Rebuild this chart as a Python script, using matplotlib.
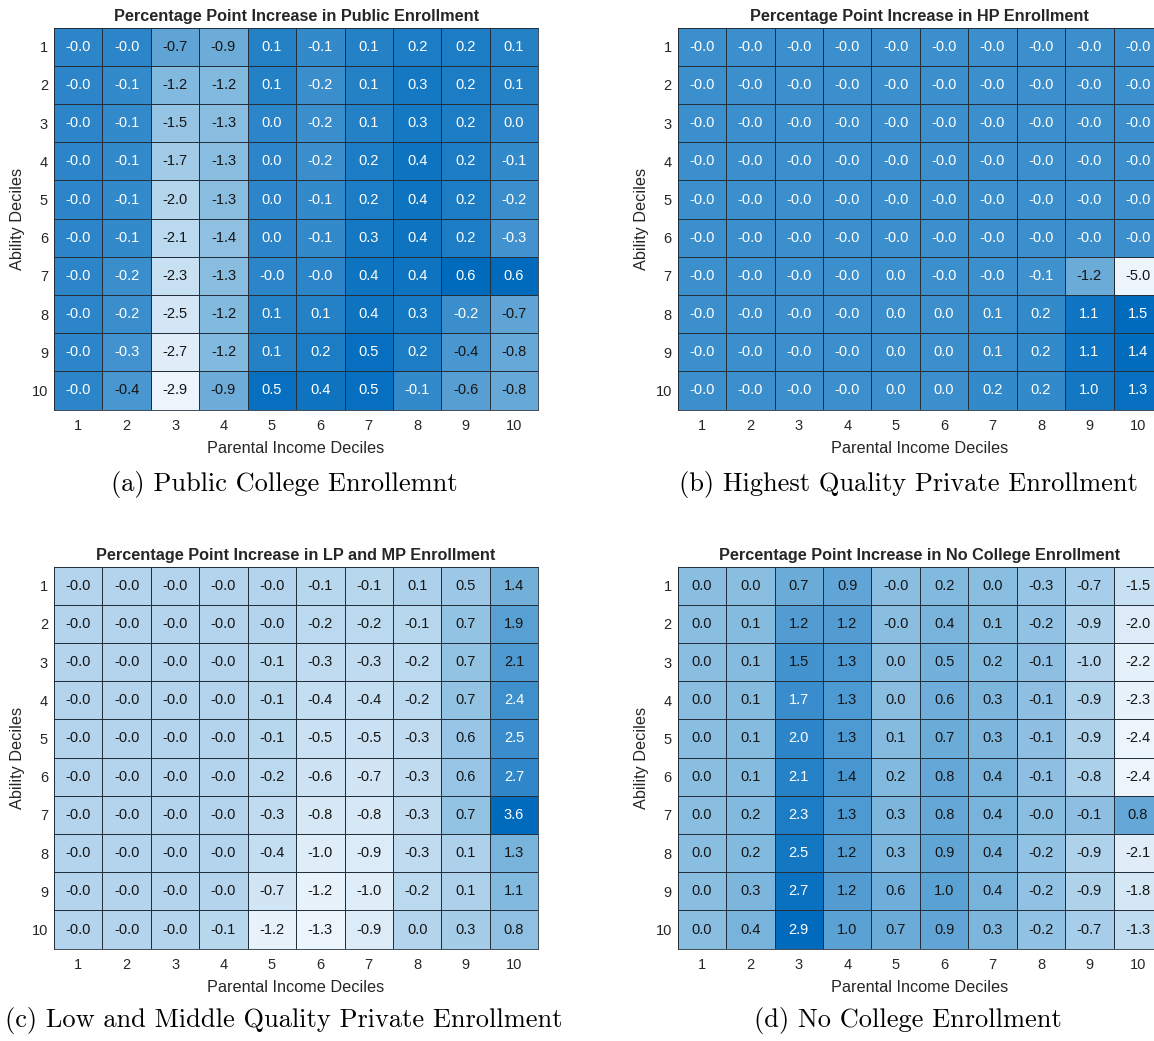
import numpy as np
import matplotlib
matplotlib.use("Agg")
import matplotlib.pyplot as plt
from matplotlib.colors import LinearSegmentedColormap, Normalize

# Percentage point changes by ability decile (rows) and parental income decile (columns)
public_enroll = [
    [-0.0, -0.0, -0.7, -0.9, 0.1, -0.1, 0.1, 0.2, 0.2, 0.1],
    [-0.0, -0.1, -1.2, -1.2, 0.1, -0.2, 0.1, 0.3, 0.2, 0.1],
    [-0.0, -0.1, -1.5, -1.3, 0.0, -0.2, 0.1, 0.3, 0.2, 0.0],
    [-0.0, -0.1, -1.7, -1.3, 0.0, -0.2, 0.2, 0.4, 0.2, -0.1],
    [-0.0, -0.1, -2.0, -1.3, 0.0, -0.1, 0.2, 0.4, 0.2, -0.2],
    [-0.0, -0.1, -2.1, -1.4, 0.0, -0.1, 0.3, 0.4, 0.2, -0.3],
    [-0.0, -0.2, -2.3, -1.3, -0.0, -0.0, 0.4, 0.4, 0.6, 0.6],
    [-0.0, -0.2, -2.5, -1.2, 0.1, 0.1, 0.4, 0.3, -0.2, -0.7],
    [-0.0, -0.3, -2.7, -1.2, 0.1, 0.2, 0.5, 0.2, -0.4, -0.8],
    [-0.0, -0.4, -2.9, -0.9, 0.5, 0.4, 0.5, -0.1, -0.6, -0.8],
]

hp_enroll = [
    [-0.0, -0.0, -0.0, -0.0, -0.0, -0.0, -0.0, -0.0, -0.0, -0.0],
    [-0.0, -0.0, -0.0, -0.0, -0.0, -0.0, -0.0, -0.0, -0.0, -0.0],
    [-0.0, -0.0, -0.0, -0.0, -0.0, -0.0, -0.0, -0.0, -0.0, -0.0],
    [-0.0, -0.0, -0.0, -0.0, -0.0, -0.0, -0.0, -0.0, -0.0, -0.0],
    [-0.0, -0.0, -0.0, -0.0, -0.0, -0.0, -0.0, -0.0, -0.0, -0.0],
    [-0.0, -0.0, -0.0, -0.0, -0.0, -0.0, -0.0, -0.0, -0.0, -0.0],
    [-0.0, -0.0, -0.0, -0.0, 0.0, -0.0, -0.0, -0.1, -1.2, -5.0],
    [-0.0, -0.0, -0.0, -0.0, 0.0, 0.0, 0.1, 0.2, 1.1, 1.5],
    [-0.0, -0.0, -0.0, -0.0, 0.0, 0.0, 0.1, 0.2, 1.1, 1.4],
    [-0.0, -0.0, -0.0, -0.0, 0.0, 0.0, 0.2, 0.2, 1.0, 1.3],
]

lp_mp_enroll = [
    [-0.0, -0.0, -0.0, -0.0, -0.0, -0.1, -0.1, 0.1, 0.5, 1.4],
    [-0.0, -0.0, -0.0, -0.0, -0.0, -0.2, -0.2, -0.1, 0.7, 1.9],
    [-0.0, -0.0, -0.0, -0.0, -0.1, -0.3, -0.3, -0.2, 0.7, 2.1],
    [-0.0, -0.0, -0.0, -0.0, -0.1, -0.4, -0.4, -0.2, 0.7, 2.4],
    [-0.0, -0.0, -0.0, -0.0, -0.1, -0.5, -0.5, -0.3, 0.6, 2.5],
    [-0.0, -0.0, -0.0, -0.0, -0.2, -0.6, -0.7, -0.3, 0.6, 2.7],
    [-0.0, -0.0, -0.0, -0.0, -0.3, -0.8, -0.8, -0.3, 0.7, 3.6],
    [-0.0, -0.0, -0.0, -0.0, -0.4, -1.0, -0.9, -0.3, 0.1, 1.3],
    [-0.0, -0.0, -0.0, -0.0, -0.7, -1.2, -1.0, -0.2, 0.1, 1.1],
    [-0.0, -0.0, -0.0, -0.1, -1.2, -1.3, -0.9, 0.0, 0.3, 0.8],
]

no_college = [
    [0.0, 0.0, 0.7, 0.9, -0.0, 0.2, 0.0, -0.3, -0.7, -1.5],
    [0.0, 0.1, 1.2, 1.2, -0.0, 0.4, 0.1, -0.2, -0.9, -2.0],
    [0.0, 0.1, 1.5, 1.3, 0.0, 0.5, 0.2, -0.1, -1.0, -2.2],
    [0.0, 0.1, 1.7, 1.3, 0.0, 0.6, 0.3, -0.1, -0.9, -2.3],
    [0.0, 0.1, 2.0, 1.3, 0.1, 0.7, 0.3, -0.1, -0.9, -2.4],
    [0.0, 0.1, 2.1, 1.4, 0.2, 0.8, 0.4, -0.1, -0.8, -2.4],
    [0.0, 0.2, 2.3, 1.3, 0.3, 0.8, 0.4, -0.0, -0.1, 0.8],
    [0.0, 0.2, 2.5, 1.2, 0.3, 0.9, 0.4, -0.2, -0.9, -2.1],
    [0.0, 0.3, 2.7, 1.2, 0.6, 1.0, 0.4, -0.2, -0.9, -1.8],
    [0.0, 0.4, 2.9, 1.0, 0.7, 0.9, 0.3, -0.2, -0.7, -1.3],
]

income_deciles = [str(i) for i in range(1, 11)]
ability_deciles = [str(i) for i in range(1, 11)]

titles = [
    "Percentage Point Increase in Public Enrollment",
    "Percentage Point Increase in HP Enrollment",
    "Percentage Point Increase in LP and MP Enrollment",
    "Percentage Point Increase in No College Enrollment",
]
captions = [
    "(a) Public College Enrollemnt",
    "(b) Highest Quality Private Enrollment",
    "(c) Low and Middle Quality Private Enrollment",
    "(d) No College Enrollment",
]

W, H = 1154, 1041
fig = plt.figure(figsize=(W / 100, H / 100), dpi=100)

cmap = LinearSegmentedColormap.from_list(
    "blues", [(0.0, (0.925, 0.957, 0.988)),
              (0.5, (0.50, 0.72, 0.87)),
              (1.0, (0.0, 0.42, 0.74))])

TEXT = "#262626"
GRID = "#23303c"
SANS = "Liberation Sans"


def px_axes(left, top, right, bottom):
    return fig.add_axes([left / W, 1 - bottom / H, (right - left) / W, (bottom - top) / H])


def draw_heatmap(ax, values, title):
    data = np.array(values, dtype=float)
    norm = Normalize(vmin=data.min(), vmax=data.max())
    edges = np.arange(11) + 0.5
    ax.pcolormesh(edges, edges, data, cmap=cmap, norm=norm,
                  edgecolors=GRID, linewidth=0.5)
    ax.set_xlim(0.5, 10.5)
    ax.set_ylim(10.5, 0.5)
    for r in range(10):
        for c in range(10):
            v = data[r, c]
            color = "white" if norm(v) > 0.74 else "#151515"
            ax.text(c + 1, r + 1, f"{values[r][c]:.1f}", ha="center", va="center",
                    fontsize=10.5, color=color, family=SANS)
    ax.set_xticks(range(1, 11))
    ax.set_xticklabels(income_deciles)
    ax.set_yticks(range(1, 11))
    ax.set_yticklabels(ability_deciles)
    ax.tick_params(axis="x", length=0, pad=6.5, labelsize=10.5, labelcolor=TEXT)
    ax.tick_params(axis="y", length=0, pad=4.3, labelsize=10.5, labelcolor=TEXT)
    for lab in ax.get_xticklabels() + ax.get_yticklabels():
        lab.set_family(SANS)
    for s in ax.spines.values():
        s.set_color(GRID)
        s.set_linewidth(0.6)
    ax.set_title(title, fontsize=11.7, fontweight="bold", color=TEXT,
                 family=SANS, pad=4.5)
    ax.set_xlabel("Parental Income Deciles", fontsize=11.7, color=TEXT,
                  family=SANS, labelpad=5.7)
    ax.set_ylabel("Ability Deciles", fontsize=11.7, color=TEXT,
                  family=SANS, labelpad=5)


panels = [public_enroll, hp_enroll, lp_mp_enroll, no_college]
boxes = [
    (54, 27.6, 538.2, 409.6),
    (677.8, 27.6, 1162.0, 409.6),
    (54, 566.6, 538.2, 948.6),
    (677.8, 566.6, 1162.0, 948.6),
]
caption_pos = [(284, 485), (908, 485), (284, 1020), (908, 1020)]

for vals, box, title, cap, cpos in zip(panels, boxes, titles, captions, caption_pos):
    ax = px_axes(*box)
    draw_heatmap(ax, vals, title)
    fig.text(cpos[0] / W, 1 - cpos[1] / H, cap, ha="center", va="center",
             fontsize=19, family="cmr10", color="black")

fig.savefig("out.png", dpi=100)
